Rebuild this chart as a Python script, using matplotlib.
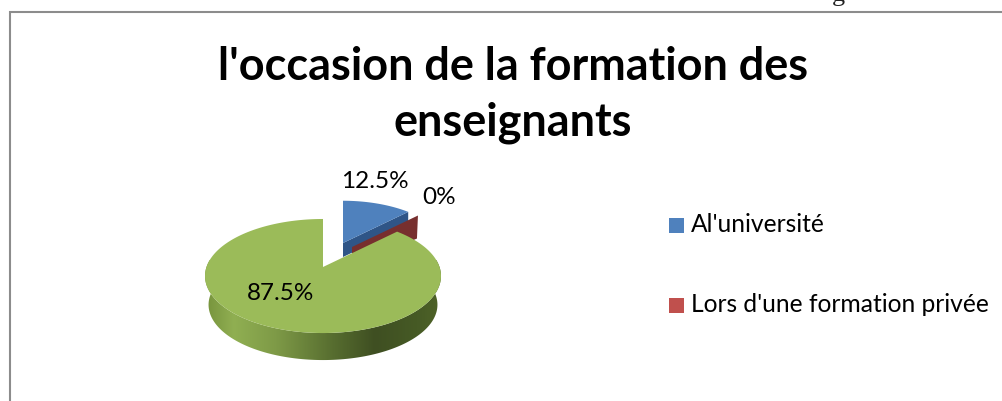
import numpy as np
import matplotlib
matplotlib.use("Agg")
import matplotlib.pyplot as plt
from matplotlib.patches import Polygon, Rectangle
from matplotlib.colors import LinearSegmentedColormap

title_lines = "l'occasion de la formation des\nenseignants"
categories = ["Al'université", "Lors d'une formation privée", ""]
values = [12.5, 0.0, 87.5]
labels = ["12.5%", "0%", "87.5%"]
colors = ["#4F81BD", "#C0504D", "#9BBB59"]

plt.rcParams['font.family'] = ['Lato', 'DejaVu Sans']
W, H = 1003, 401
fig = plt.figure(figsize=(W / 100, H / 100), dpi=100)
ax = fig.add_axes([0, 0, 1, 1])
ax.set_xlim(0, W)
ax.set_ylim(H, 0)
ax.axis('off')

P = 0.158
def project(cx, cy, deg, scale=1.0):
    """deg: clockwise from 12 o'clock, perspective-tilted disc."""
    t = np.radians(deg)
    s = -np.cos(t)            # + toward the viewer
    d = 1 - P * s
    return cx + scale * 116.5 * np.sin(t) / d, cy + scale * 55.6 * s / d

def sector(cx, cy, a0, a1, scale=1.0):
    a = np.linspace(a0, a1, 200)
    x, y = project(cx, cy, a, scale)
    return np.r_[cx, x], np.r_[cy, y]

cum = np.cumsum([0] + values) * 3.6

# frame
ax.plot([10, 10, W], [H, 12, 12], color="#8c8c8c", lw=1.5, solid_joinstyle='miter')
# cropped line of the page above
ax.text(214, 0.5, "au cadre", family="Liberation Serif", fontsize=19, color="#222222", va='baseline', clip_on=True)
ax.text(832, 0.5, "g", family="Liberation Serif", fontsize=19, color="#222222", va='baseline', clip_on=True)

# blue slice
bc = (343, 243); bs = 0.88; bd = 14
x, y = sector(*bc, cum[0], cum[1], bs)
ax.add_patch(Polygon(np.c_[np.r_[x[0], x[-1], x[-1], x[0]], np.r_[y[0], y[-1], y[-1] + bd, y[0] + bd]],
                     fc="#2F5587", ec='none', zorder=2))
ax.add_patch(Polygon(np.c_[x, y], fc=colors[0], ec='none', zorder=3))

# red slice (zero width: only its wall shows)
rc = (352, 247)
xr, yr = project(*rc, cum[2], 0.89)
ax.add_patch(Polygon([(rc[0], rc[1]), (xr, yr), (xr - 1, yr + 23), (rc[0], rc[1] + 20)],
                     fc="#772F2E", ec='none', zorder=4))

# green slice
gc = (323, 267); bottom_scale = 0.97; shift = 29
a = np.linspace(cum[2], 360 + 0, 400)
x, y = sector(*gc, cum[2], cum[3])
xt, yt = project(*gc, a)
xb, yb = project(gc[0], gc[1] + shift, a, bottom_scale)
wall = Polygon(np.c_[np.r_[xt, xb[::-1]], np.r_[yt, yb[::-1]]], fc='none', ec='none', zorder=5)
ax.add_patch(wall)
cmap = LinearSegmentedColormap.from_list("wall", [(0, "#76923C"), (0.12, "#90AF52"), (0.3, "#7E9A47"),
                                                  (0.55, "#566C2F"), (0.72, "#3F4F22"), (0.9, "#465A25"), (1, "#4F6328")])
im = ax.imshow(np.linspace(0, 1, 256)[None, :], extent=(205, 441, 380, 260), cmap=cmap, aspect='auto', zorder=5)
im.set_clip_path(wall)
ax.set_xlim(0, W); ax.set_ylim(H, 0)
ax.add_patch(Polygon(np.c_[x, y], fc=colors[2], ec='none', zorder=6))

# data labels
txt = dict(fontsize=17.5, color="black", va='center', ha='center', zorder=8)
ax.text(375, 181, labels[0], **txt)
ax.text(439, 198, labels[1], **txt)
ax.text(281, 293, labels[2], **txt)

# title
ax.text(513, 95, title_lines, fontsize=32.4, fontweight='bold', color="black", ha='center', va='center', linespacing=1.395)

# legend
for yy, c, cat in zip([226, 306], colors, categories):
    ax.add_patch(Rectangle((669, yy - 8), 15, 15, fc=c, ec='none'))
    ax.text(691, yy - 1, cat, fontsize=17.7, color="black", va='center', ha='left')

fig.savefig("out.png", dpi=100)
